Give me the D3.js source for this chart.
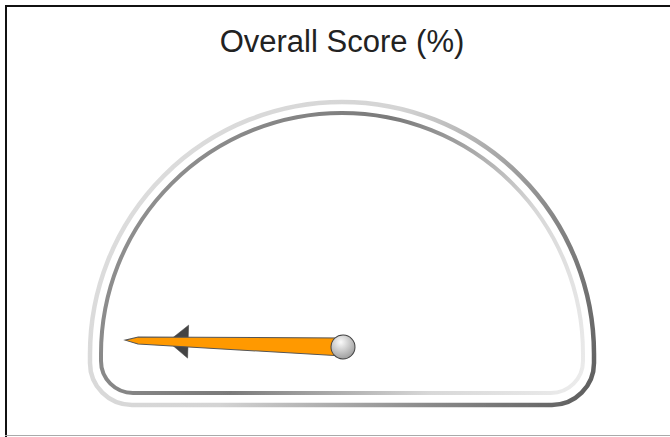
<!DOCTYPE html>
<html>
<head>
<meta charset="utf-8">
<script src="https://cdn.jsdelivr.net/npm/d3@7"></script>
<style>
  body { margin: 0; background: #fff; }
  svg { display: block; }
</style>
</head>
<body>
<div class="chart"></div>
<script>
// gauge data
const title = "Overall Score (%)";
const gaugeMin = [0];
const gaugeMax = [100];
const scoreValues = [1];

const width = 670, height = 437;
const cx = 342, cy = 354;   // arc centre
const px = 343, py = 347;   // needle pivot

const svg = d3.select(".chart").append("svg")
  .attr("width", width)
  .attr("height", height);

const defs = svg.append("defs");

const outerGrad = defs.append("linearGradient")
  .attr("id", "outerGrad")
  .attr("gradientUnits", "userSpaceOnUse")
  .attr("x1", 90).attr("y1", 100).attr("x2", 600).attr("y2", 410);
outerGrad.append("stop").attr("offset", 0).attr("stop-color", "#e0e0e0");
outerGrad.append("stop").attr("offset", 0.45).attr("stop-color", "#d4d4d4");
outerGrad.append("stop").attr("offset", 0.75).attr("stop-color", "#8a8a8a");
outerGrad.append("stop").attr("offset", 1).attr("stop-color", "#5a5a5a");

const innerGrad = defs.append("linearGradient")
  .attr("id", "innerGrad")
  .attr("gradientUnits", "userSpaceOnUse")
  .attr("x1", 100).attr("y1", 110).attr("x2", 590).attr("y2", 400);
innerGrad.append("stop").attr("offset", 0).attr("stop-color", "#999");
innerGrad.append("stop").attr("offset", 0.45).attr("stop-color", "#7a7a7a");
innerGrad.append("stop").attr("offset", 0.75).attr("stop-color", "#d8d8d8");
innerGrad.append("stop").attr("offset", 1).attr("stop-color", "#eee");

const pivotGrad = defs.append("radialGradient")
  .attr("id", "pivotGrad")
  .attr("cx", "40%").attr("cy", "30%").attr("r", "75%");
pivotGrad.append("stop").attr("offset", 0).attr("stop-color", "#fafafa");
pivotGrad.append("stop").attr("offset", 1).attr("stop-color", "#999");

defs.append("filter").attr("id", "soft")
  .append("feGaussianBlur").attr("stdDeviation", 0.7);

// frame lines
svg.append("line").attr("x1", 5).attr("x2", width).attr("y1", 6).attr("y2", 6)
  .attr("stroke", "#111").attr("stroke-width", 2);
svg.append("line").attr("x1", 6).attr("x2", 6).attr("y1", 5).attr("y2", height)
  .attr("stroke", "#111").attr("stroke-width", 2);
svg.append("line").attr("x1", 5).attr("x2", width).attr("y1", 435.5).attr("y2", 435.5)
  .attr("stroke", "#aaa").attr("stroke-width", 1);

// title
svg.append("text")
  .attr("x", cx)
  .attr("y", 52)
  .attr("text-anchor", "middle")
  .attr("font-family", "Liberation Sans, Arial, sans-serif")
  .attr("font-size", 31)
  .attr("fill", "#222")
  .text(title);

// dial outline: half circle with rounded bottom corners
function dialPath(r, bottom, rc) {
  const p = d3.path();
  p.moveTo(cx - r, cy);
  p.arc(cx, cy, r, Math.PI, 2 * Math.PI);
  p.lineTo(cx + r, bottom - rc);
  p.arcTo(cx + r, bottom, cx + r - rc, bottom, rc);
  p.lineTo(cx - r + rc, bottom);
  p.arcTo(cx - r, bottom, cx - r, bottom - rc, rc);
  p.closePath();
  return p.toString();
}

svg.append("path")
  .attr("d", dialPath(252, 405, 42))
  .attr("fill", "none")
  .attr("stroke", "url(#outerGrad)")
  .attr("stroke-width", 4.5)
  .attr("filter", "url(#soft)");

svg.append("path")
  .attr("d", dialPath(241, 393, 32))
  .attr("fill", "#fff")
  .attr("stroke", "url(#innerGrad)")
  .attr("stroke-width", 4)
  .attr("filter", "url(#soft)");

// angle scale: min on the left, max on the right
const angleScale = d3.scaleLinear()
  .domain([gaugeMin[0], gaugeMax[0]])
  .range([0, 180]);

const needleLen = 218;

const needle = svg.append("g")
  .selectAll("g")
  .data(scoreValues)
  .join("g")
  .attr("transform", d => `translate(${px},${py}) rotate(${angleScale(d)})`);

// fin behind the needle
needle.append("path")
  .attr("d", d3.line()([[-175, 0], [-155, -17], [-155, 16]]) + "Z")
  .attr("fill", "#444")
  .attr("stroke", "#333")
  .attr("stroke-width", 0.5);

needle.append("path")
  .attr("d", d3.line()([
    [0, -9], [-needleLen + 13, -3.5], [-needleLen, 0],
    [-needleLen + 13, 3.5], [0, 9]
  ]) + "Z")
  .attr("fill", "#ff9900")
  .attr("stroke", "#555")
  .attr("stroke-width", 1);

needle.append("circle")
  .attr("r", 12)
  .attr("fill", "url(#pivotGrad)")
  .attr("stroke", "#444")
  .attr("stroke-width", 1);
</script>
</body>
</html>
